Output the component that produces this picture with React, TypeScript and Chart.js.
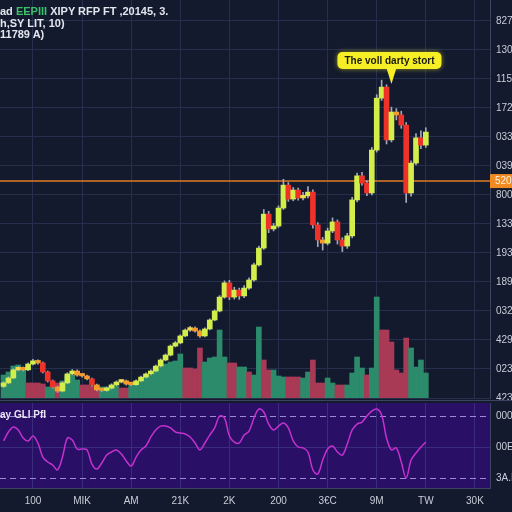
import React, { useEffect, useRef } from "react";
import { Chart, registerables } from "chart.js";

Chart.register(...registerables);

// ---------- data ----------
const firstCandle = -6;
const firstOpen = 104.0;
const closes = [
  105.2, 106.9, 109.7, 110.3, 109.7, 111.7,
  112.8, 112.1, 109.0, 105.9, 103.8, 102.4, 105.2, 108.3, 109.3, 107.9,
  107.6, 106.6, 104.5, 102.8, 102.6, 103.4, 104.5, 105.5, 105.9, 104.8,
  104.6, 105.9, 107.2, 108.3, 109.3, 111.0, 113.1, 114.8, 117.9, 119.0,
  121.4, 123.4, 124.1, 123.1, 121.4, 123.8, 126.9, 130.0, 134.8, 139.7,
  134.8, 137.2, 135.2, 137.9, 140.7, 145.9, 151.7, 163.4, 158.3, 159.3,
  165.5, 173.4, 168.6, 171.7, 169.0, 169.7, 171.0, 159.7, 154.5, 153.4,
  157.6, 160.7, 154.5, 152.4, 155.9, 168.3, 176.6, 174.1, 170.7, 185.5,
  203.4, 207.2, 189.0, 198.6, 197.6, 194.1, 170.7, 181.0, 189.7, 187.2, 191.7,
];
const highs = [
  105.6, 107.3, 110.1, 110.8, 110.7, 112.1,
  113.3, 113.2, 112.4, 109.3, 106.2, 104.1, 105.6, 108.7, 109.8, 109.7,
  108.3, 107.9, 106.9, 104.8, 103.2, 103.8, 104.9, 105.9, 106.4, 106.2,
  105.1, 106.3, 107.6, 108.7, 109.7, 111.4, 113.5, 115.2, 118.3, 119.5,
  121.8, 123.8, 124.7, 124.5, 123.5, 124.2, 127.3, 130.4, 135.3, 140.4,
  140.6, 138.2, 137.9, 138.8, 141.4, 146.5, 152.4, 165.0, 164.4, 160.2,
  166.3, 175.4, 174.3, 172.6, 172.4, 170.9, 172.9, 171.8, 160.5, 155.4,
  158.6, 162.1, 161.4, 155.3, 156.8, 169.2, 177.6, 177.8, 174.9, 186.4,
  204.6, 209.6, 208.0, 200.3, 199.8, 198.9, 195.0, 181.8, 191.2, 192.1, 193.2,
];
const lows = [
  103.6, 104.9, 106.6, 109.3, 109.3, 109.4,
  111.4, 111.7, 108.6, 105.5, 103.4, 101.9, 102.1, 104.9, 108.0, 107.5,
  107.2, 106.2, 104.1, 102.4, 102.2, 102.3, 103.1, 104.2, 105.2, 104.4,
  104.2, 104.3, 105.6, 106.9, 108.0, 109.0, 110.7, 112.8, 114.5, 117.6,
  118.7, 121.1, 123.0, 122.7, 120.9, 121.1, 123.5, 126.6, 129.7, 134.4,
  133.9, 134.1, 134.0, 134.6, 137.4, 140.3, 145.5, 151.2, 157.0, 157.6,
  158.8, 165.0, 167.8, 168.0, 168.2, 168.3, 169.0, 158.6, 152.2, 151.0,
  152.8, 157.0, 153.1, 150.5, 151.6, 155.2, 167.6, 173.4, 169.8, 170.0,
  184.8, 202.6, 187.6, 188.3, 195.9, 193.0, 167.4, 169.6, 180.4, 186.0, 186.4,
];
const volumes = [
  230, 260, 320, 330, 300, 150,
  150, 150, 140, 110, 110, 150, 170, 220, 230, 180,
  130, 130, 120, 120, 110, 110, 120, 120, 100, 100,
  140, 150, 180, 210, 230, 270, 310, 340, 360, 370,
  440, 300, 300, 290, 500, 360, 400, 410, 680, 410,
  350, 350, 310, 310, 260, 230, 710, 380, 280, 280,
  220, 210, 210, 210, 210, 200, 260, 380, 150, 150,
  200, 150, 130, 130, 130, 250, 410, 300, 230, 300,
  1010, 680, 680, 560, 280, 250, 600, 500, 310, 380, 250,
];
const volumeSides = [
  "g", "g", "g", "g", "g", "r",
  "r", "r", "r", "g", "g", "r", "g", "g", "g", "g",
  "r", "r", "r", "r", "g", "g", "g", "g", "r", "r",
  "g", "g", "g", "g", "g", "g", "g", "g", "g", "g",
  "g", "r", "r", "r", "r", "g", "g", "g", "g", "g",
  "r", "r", "g", "g", "r", "g", "g", "r", "r", "g",
  "g", "g", "r", "r", "r", "g", "g", "r", "r", "r",
  "g", "g", "r", "r", "g", "g", "g", "g", "r", "g",
  "g", "r", "r", "r", "r", "r", "r", "g", "g", "g", "g",
];
const indicator = [
  53.9, 59.7, 62.9, 61.0, 55.8, 53.9,
  57.1, 52.6, 43.5, 40.3, 38.4, 35.2, 43.5, 55.8, 54.5, 48.7,
  48.7, 48.1, 39.0, 35.8, 39.7, 44.8, 46.8, 48.1, 45.5, 41.0,
  37.7, 43.5, 48.1, 50.6, 56.5, 61.0, 63.5, 63.5, 62.3, 59.7,
  59.0, 58.4, 56.5, 52.6, 48.1, 52.6, 57.7, 62.3, 70.0, 68.7,
  57.1, 53.2, 52.6, 57.7, 60.3, 68.7, 74.5, 72.6, 64.8, 61.0,
  63.5, 65.5, 62.3, 53.9, 50.0, 49.4, 46.8, 35.2, 32.6, 41.6,
  48.7, 50.6, 46.8, 44.8, 51.9, 61.0, 64.8, 66.1, 70.0, 73.2,
  74.5, 70.6, 55.8, 48.1, 49.4, 40.3, 30.0, 41.6, 46.1, 50.0, 53.2,
];

const xTickValues = [0, 10, 20, 30, 40, 50, 60, 70, 80, 90];
const xTickLabels = ["100", "MIK", "AM", "21K", "2K", "200", "3€C", "9M", "TW", "30K"];
const priceTickValues = [230, 220, 210, 200, 190, 180, 170, 160, 150, 140, 130, 120, 110, 100];
const priceTickLabels = ["827", "130", "115", "172", "033", "039", "800", "133", "193", "189", "032", "429", "023", "423"];
const indicatorTickValues = [70, 50, 30];
const indicatorTickLabels = ["000", "00E", "3A.N"];
const indicatorBands = [70, 30];
const lastPrice = 174.8;
const lastPriceLabel = "520";
const calloutText = "The voll darty stort";
const calloutPoint = { x: 73, y: 208.3 };
const panelTitle = "ay GLI PfI";
const headerLine1 = ["ad ", "EEPIII", " XIPY RFP FT ,20145, 3."];
const headerLine2 = "h,SY LIT, 10)";
const headerLine3 = "11789 A)";

// ---------- styles ----------
const BG = "#131a2d";
const GRID = "#262f4c";
const AXIS = "#3c4462";
const TEXT = "#c9cdd8";
const UP = "#d3ee4a";
const UP_SMALL = "#eed94a";
const DOWN_SMALL = "#f59a2c";
const DOWN = "#ee3129";
const WICK = "#a3a8ba";
const VOL_UP = "#2b8b6b";
const VOL_DOWN = "#a93a56";
const PRICE_LINE = "#e27b24";
const PRICE_LABEL_BG = "#f08a22";
const PANEL_FILL = "#2a0f66";
const PANEL_GRID = "#3b2b7c";
const DASH = "#9f8ad6";
const RSI = "#c431cf";
const CALLOUT = "#f7ef26";
const FONT = "'Liberation Sans', Arial, sans-serif";

const X_MIN = -6.72;
const X_MAX = 93.07;

export default function App() {
  const mainRef = useRef<HTMLCanvasElement>(null);
  const panelRef = useRef<HTMLCanvasElement>(null);

  useEffect(() => {
    document.body.style.margin = "0";
    document.body.style.background = BG;
    Chart.defaults.font.family = FONT;

    const xs = closes.map((_, i) => firstCandle + i);
    const opens = closes.map((_, i) => (i === 0 ? firstOpen : closes[i - 1]));
    const bodyColors = closes.map((c, i) => {
      const d = c - opens[i];
      if (d >= 0) return d >= 0.8 ? UP : UP_SMALL;
      return d > -2 ? DOWN_SMALL : DOWN;
    });

    const overlay = {
      id: "overlay",
      beforeDatasetsDraw(chart: any) {
        const { ctx, chartArea, scales } = chart;
        const y = scales.y.getPixelForValue(lastPrice);
        ctx.save();
        ctx.strokeStyle = PRICE_LINE;
        ctx.lineWidth = 1.5;
        ctx.beginPath();
        ctx.moveTo(chartArea.left, y);
        ctx.lineTo(chartArea.right, y);
        ctx.stroke();
        ctx.restore();
      },
      afterDraw(chart: any) {
        const { ctx, chartArea, scales } = chart;
        const y = scales.y.getPixelForValue(lastPrice);
        ctx.save();
        ctx.fillStyle = PRICE_LABEL_BG;
        ctx.fillRect(chartArea.right, y - 7, 30, 14);
        ctx.fillStyle = "#fff1dc";
        ctx.font = `10px ${FONT}`;
        ctx.textBaseline = "middle";
        ctx.textAlign = "left";
        ctx.fillText(lastPriceLabel, chartArea.right + 5, y + 0.5);

        // callout
        const tx = scales.x.getPixelForValue(calloutPoint.x);
        const ty = scales.y.getPixelForValue(calloutPoint.y);
        ctx.font = `bold 10px ${FONT}`;
        const w = ctx.measureText(calloutText).width + 14;
        const h = 17;
        const bx = tx - 2 - w / 2;
        const bb = ty - 15;
        const bt = bb - h;
        ctx.shadowColor = "rgba(247,239,38,0.55)";
        ctx.shadowBlur = 5;
        ctx.fillStyle = CALLOUT;
        ctx.beginPath();
        ctx.roundRect(bx, bt, w, h, 5);
        ctx.fill();
        ctx.shadowBlur = 0;
        ctx.beginPath();
        ctx.moveTo(tx - 5, bb - 1);
        ctx.lineTo(tx + 5, bb - 1);
        ctx.lineTo(tx, ty);
        ctx.closePath();
        ctx.fill();
        ctx.fillStyle = "#1a1a10";
        ctx.textAlign = "center";
        ctx.textBaseline = "middle";
        ctx.fillText(calloutText, bx + w / 2, bt + h / 2 + 0.5);
        ctx.restore();
      },
    };

    const main = new Chart(mainRef.current!, {
      type: "bar",
      data: {
        datasets: [
          {
            label: "volume",
            yAxisID: "yVol",
            data: xs.map((x, i) => ({ x, y: volumes[i] })),
            backgroundColor: volumeSides.map((s) => (s === "g" ? VOL_UP : VOL_DOWN)),
            barThickness: 5,
            grouped: false,
            order: 3,
          } as any,
          {
            label: "wicks",
            yAxisID: "y",
            data: xs.map((x, i) => ({ x, y: [lows[i], highs[i]] })),
            backgroundColor: WICK,
            barThickness: 1,
            grouped: false,
            order: 2,
          } as any,
          {
            label: "bodies",
            yAxisID: "y",
            data: xs.map((x, i) => ({ x, y: [opens[i], closes[i]] })),
            backgroundColor: bodyColors,
            barThickness: 5,
            minBarLength: 2.5,
            grouped: false,
            order: 1,
          } as any,
        ],
      },
      options: {
        responsive: false,
        animation: false,
        devicePixelRatio: 1,
        layout: { padding: 0 },
        plugins: { legend: { display: false }, tooltip: { enabled: false } },
        scales: {
          x: {
            type: "linear",
            offset: false,
            min: X_MIN,
            max: X_MAX,
            afterBuildTicks: (s: any) => {
              s.ticks = xTickValues.map((v) => ({ value: v }));
            },
            ticks: { display: false },
            grid: { color: GRID, drawTicks: false, offset: false },
            border: { display: false },
            afterFit: (s: any) => {
              s.height = 2;
              s.paddingLeft = 0;
              s.paddingRight = 0;
            },
          },
          y: {
            position: "right",
            min: 100,
            max: 237.24,
            afterBuildTicks: (s: any) => {
              s.ticks = priceTickValues.map((v) => ({ value: v }));
            },
            ticks: {
              color: TEXT,
              font: { size: 10 },
              padding: 6,
              callback: (v: any) => priceTickLabels[priceTickValues.indexOf(Number(v))] ?? "",
            },
            grid: { color: GRID, drawTicks: false },
            border: { color: AXIS },
            afterFit: (s: any) => {
              s.width = 22;
              s.paddingTop = 0;
              s.paddingBottom = 0;
            },
          },
          yVol: { display: false, min: 0, max: 3980 },
        },
      } as any,
      plugins: [overlay],
    });

    const panelPlugin = {
      id: "panelDeco",
      beforeDraw(chart: any) {
        const { ctx, chartArea } = chart;
        ctx.save();
        ctx.fillStyle = PANEL_FILL;
        ctx.fillRect(chartArea.left, chartArea.top, chartArea.right - chartArea.left, chartArea.bottom - chartArea.top);
        ctx.strokeStyle = AXIS;
        ctx.lineWidth = 1;
        ctx.beginPath();
        ctx.moveTo(0, 0.5);
        ctx.lineTo(chart.width, 0.5);
        ctx.stroke();
        ctx.restore();
      },
      beforeDatasetsDraw(chart: any) {
        const { ctx, chartArea, scales } = chart;
        ctx.save();
        ctx.strokeStyle = DASH;
        ctx.lineWidth = 1.2;
        ctx.setLineDash([6, 4]);
        indicatorBands.forEach((b) => {
          const y = Math.round(scales.y.getPixelForValue(b)) + 0.5;
          ctx.beginPath();
          ctx.moveTo(chartArea.left, y);
          ctx.lineTo(chartArea.right, y);
          ctx.stroke();
        });
        ctx.restore();
      },
    };

    const panel = new Chart(panelRef.current!, {
      type: "line",
      data: {
        datasets: [
          {
            label: "indicator",
            data: xs.map((x, i) => ({ x, y: indicator[i] })),
            borderColor: RSI,
            borderWidth: 1.5,
            pointRadius: 0,
            tension: 0.35,
            fill: false,
          },
        ],
      },
      options: {
        responsive: false,
        animation: false,
        devicePixelRatio: 1,
        layout: { padding: { top: 3, left: 0, right: 0, bottom: 0 } },
        plugins: { legend: { display: false }, tooltip: { enabled: false } },
        scales: {
          x: {
            type: "linear",
            offset: false,
            min: X_MIN,
            max: X_MAX,
            afterBuildTicks: (s: any) => {
              s.ticks = xTickValues.map((v) => ({ value: v }));
            },
            ticks: {
              color: TEXT,
              font: { size: 10 },
              padding: 7,
              maxRotation: 0,
              autoSkip: false,
              callback: (v: any) => xTickLabels[xTickValues.indexOf(Number(v))] ?? "",
            },
            grid: { color: PANEL_GRID, drawTicks: false, offset: false },
            border: { color: AXIS },
            afterFit: (s: any) => {
              s.height = 24;
              s.paddingLeft = 0;
              s.paddingRight = 0;
            },
          },
          y: {
            position: "right",
            min: 23.55,
            max: 78.39,
            afterBuildTicks: (s: any) => {
              s.ticks = indicatorTickValues.map((v) => ({ value: v }));
            },
            ticks: {
              color: TEXT,
              font: { size: 10 },
              padding: 6,
              callback: (v: any) => indicatorTickLabels[indicatorTickValues.indexOf(Number(v))] ?? "",
            },
            grid: {
              drawTicks: false,
              color: (c: any) => (c.tick && c.tick.value === 50 ? PANEL_GRID : "rgba(0,0,0,0)"),
            },
            border: { color: AXIS },
            afterFit: (s: any) => {
              s.width = 22;
              s.paddingTop = 0;
              s.paddingBottom = 0;
            },
          },
        },
      } as any,
      plugins: [panelPlugin],
    });

    return () => {
      main.destroy();
      panel.destroy();
    };
  }, []);

  const textStyle: React.CSSProperties = {
    position: "absolute",
    left: 0,
    color: "#e3e6ee",
    fontFamily: FONT,
    fontSize: 11,
    fontWeight: "bold",
    lineHeight: "12px",
    whiteSpace: "pre",
  };

  return (
    <div style={{ position: "relative", width: 512, height: 512, background: BG, overflow: "hidden" }}>
      <canvas ref={mainRef} width={512} height={400} style={{ position: "absolute", left: 0, top: 0, display: "block" }} />
      <canvas ref={panelRef} width={512} height={112} style={{ position: "absolute", left: 0, top: 400, display: "block" }} />
      <div style={{ ...textStyle, top: 5 }}>
        {headerLine1[0]}
        <span style={{ color: "#3cc06a" }}>{headerLine1[1]}</span>
        {headerLine1[2]}
      </div>
      <div style={{ ...textStyle, top: 17 }}>{headerLine2}</div>
      <div style={{ ...textStyle, top: 28 }}>{headerLine3}</div>
      <div style={{ ...textStyle, top: 409, fontSize: 10, color: "#e8e4f4" }}>{panelTitle}</div>
    </div>
  );
}
